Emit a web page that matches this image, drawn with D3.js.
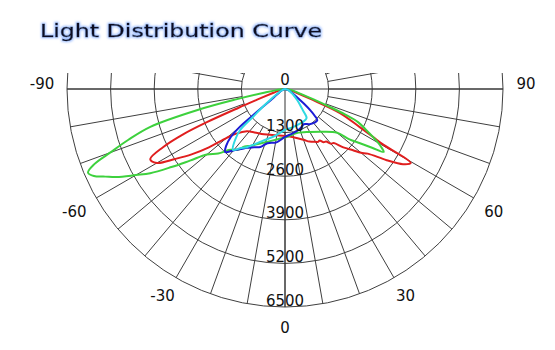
<!DOCTYPE html>
<html>
<head>
<meta charset="utf-8">
<script src="https://cdn.jsdelivr.net/npm/d3@7"></script>
<style>
  body { margin: 0; background: #fff; }
  svg { display: block; }
</style>
</head>
<body>
<div id="chart"></div>
<script>
// polar ticks
const angleTicks = [-90, -60, -30, 0, 30, 60, 90];
const intensityTicks = [1300, 2600, 3900, 5200, 6500];

// intensity (cd) against angle (deg, 0 = straight down, + = right)
const redAngles   = [-90, -80, -72, -69, -68, -67, -66, -64.5, -62.5, -60, -57.5, -55, -52.5, -50, -47.5, -42, -35, -25, -10, 0, 10, 20, 25, 30, 32, 34, 36, 38, 40, 42, 45, 48, 50, 52, 55, 57.5, 59.5, 60.5, 61.5, 63, 66.4, 68.5, 72, 80, 90];
const redValues   = [0, 120, 360, 890, 1490, 2530, 3340, 4030, 4530, 4410, 3880, 3400, 2860, 2270, 1970, 1700, 1580, 1490, 1400, 1400, 1460, 1610, 1730, 1820, 1860, 1850, 1960, 1990, 2130, 2170, 2460, 2730, 2960, 3130, 3700, 4170, 4350, 3340, 2980, 2500, 1790, 890, 360, 120, 0];

const greenAngles = [-90, -85, -80, -78, -76.5, -74.3, -72, -70, -68.5, -67, -65.5, -64, -62.4, -60, -58, -55.5, -53, -50, -46, -42, -38, -35, -31, -22, -9, 2, 15, 30, 41.5, 50, 52, 54, 56, 57.5, 59, 60.5, 63, 65.6, 67, 68.2, 70, 75, 80, 90];
const greenValues = [0, 150, 600, 1490, 2680, 4170, 4920, 5550, 6110, 6380, 6260, 5960, 5670, 5130, 4740, 4110, 3550, 3040, 2770, 2440, 2300, 2090, 1970, 1730, 1520, 1430, 1360, 1480, 1700, 2030, 2440, 2740, 3130, 3490, 3340, 3130, 2740, 2390, 1940, 1430, 890, 360, 180, 0];

const blueAngles  = [-90, -70, -60, -54, -51.5, -50.7, -50, -48.5, -46, -43.5, -40, -36, -33, -28, -23, -18, -9, 0, 6, 15, 22, 28, 35, 42, 46, 48, 50, 52, 54, 60, 70, 90];
const blueValues  = [0, 90, 180, 360, 660, 1190, 1790, 2150, 2440, 2590, 2390, 2210, 2090, 1970, 1880, 1700, 1610, 1430, 1370, 1310, 1250, 1190, 1280, 1340, 1340, 1190, 980, 750, 540, 270, 120, 0];

const cyanAngles  = [-90, -70, -60, -54, -51, -49, -47.5, -44.5, -40.5, -37, -33, -28, -23, -15, -6, 0, 12, 20, 28, 34, 37, 40, 44, 48, 55, 70, 90];
const cyanValues  = [0, 90, 210, 540, 890, 1250, 1820, 2120, 2390, 2210, 2060, 1850, 1670, 1490, 1310, 1220, 1160, 1130, 1120, 1100, 1070, 830, 630, 480, 300, 120, 0];

const width = 555, height = 350;
const cx = 285, cy = 89, R = 218;

const svg = d3.select("#chart").append("svg")
    .attr("width", width)
    .attr("height", height);

const defs = svg.append("defs");
const glow = defs.append("filter").attr("id", "glow")
    .attr("x", "-10%").attr("y", "-40%").attr("width", "120%").attr("height", "180%");
glow.append("feMorphology").attr("in", "SourceAlpha").attr("operator", "dilate").attr("radius", 0.8).attr("result", "thick");
glow.append("feGaussianBlur").attr("in", "thick").attr("stdDeviation", 1.1).attr("result", "blur");
glow.append("feFlood").attr("flood-color", "#8fb4ff").attr("flood-opacity", 0.8).attr("result", "col");
glow.append("feComposite").attr("in", "col").attr("in2", "blur").attr("operator", "in").attr("result", "halo");
const merge = glow.append("feMerge");
merge.append("feMergeNode").attr("in", "halo");
merge.append("feMergeNode").attr("in", "SourceGraphic");

defs.append("clipPath").attr("id", "gridClip")
  .append("rect").attr("x", 0).attr("y", 73).attr("width", width).attr("height", height);

// title
svg.append("text")
    .attr("x", 40).attr("y", 37)
    .attr("textLength", 282).attr("lengthAdjust", "spacingAndGlyphs")
    .style("font-family", "'DejaVu Sans', sans-serif")
    .style("font-size", "18px")
    .style("fill", "#0a0a22")
    .style("stroke", "#0a0a22")
    .style("stroke-width", 0.4)
    .attr("filter", "url(#glow)")
    .text("Light Distribution Curve");

const r = d3.scaleLinear().domain([0, 6500]).range([0, R]);
const rad = d => d * Math.PI / 180;
const px = (a, v) => cx + r(v) * Math.sin(rad(a));
const py = (a, v) => cy + r(v) * Math.cos(rad(a));

const grid = svg.append("g").attr("clip-path", "url(#gridClip)")
    .attr("fill", "none").attr("stroke", "#3f3f3f").attr("stroke-width", 1);

grid.selectAll("circle")
    .data(intensityTicks)
    .join("circle")
    .attr("cx", cx).attr("cy", cy)
    .attr("r", d => r(d));

grid.selectAll("line.spoke")
    .data(d3.range(-180, 180, 10))
    .join("line")
    .attr("class", "spoke")
    .attr("x1", d => px(d, intensityTicks[0]))
    .attr("y1", d => py(d, intensityTicks[0]))
    .attr("x2", d => px(d, 6500))
    .attr("y2", d => py(d, 6500));

// main axes
grid.append("line")
    .attr("x1", px(-90, 6500)).attr("y1", cy)
    .attr("x2", px(90, 6500)).attr("y2", cy)
    .attr("stroke", "#333");
grid.append("line")
    .attr("x1", cx).attr("y1", cy)
    .attr("x2", cx).attr("y2", py(0, 6500))
    .attr("stroke", "#333");

// curves
const line = d3.line()
    .x(d => px(d[0], d[1]))
    .y(d => py(d[0], d[1]))
    .curve(d3.curveCatmullRom.alpha(0.5));

const series = [
  {angles: redAngles, values: redValues, color: "#e01e1e"},
  {angles: greenAngles, values: greenValues, color: "#3dd13d"},
  {angles: blueAngles, values: blueValues, color: "#1c1cd6"},
  {angles: cyanAngles, values: cyanValues, color: "#2fd9e2"}
];

svg.append("g").selectAll("path")
    .data(series)
    .join("path")
    .attr("d", s => line(d3.zip(s.angles, s.values)))
    .attr("fill", "none")
    .attr("stroke", s => s.color)
    .attr("stroke-width", 2)
    .attr("stroke-linejoin", "round");

// labels
const labelFont = "'DejaVu Sans', sans-serif";
svg.append("g").selectAll("text")
    .data(intensityTicks)
    .join("text")
    .attr("x", cx)
    .attr("y", d => cy + r(d) - 1.5)
    .attr("text-anchor", "middle")
    .style("font-family", labelFont)
    .style("font-size", "15px")
    .style("fill", "#111")
    .text(d => d);

svg.append("text")
    .attr("x", cx).attr("y", cy - 4)
    .attr("text-anchor", "middle")
    .style("font-family", labelFont)
    .style("font-size", "15px")
    .style("fill", "#111")
    .text("0");

svg.append("g").selectAll("text")
    .data(angleTicks)
    .join("text")
    .attr("x", d => cx + 241 * Math.sin(rad(d)) - (d < 0 ? 2 : 0))
    .attr("y", d => cy + 239 * Math.cos(rad(d)) + (Math.abs(d) === 90 ? 0 : 5) + (Math.abs(d) === 60 ? 3 : 0))
    .attr("text-anchor", "middle")
    .style("font-family", labelFont)
    .style("font-size", "15px")
    .style("fill", "#111")
    .text(d => d);
</script>
</body>
</html>
